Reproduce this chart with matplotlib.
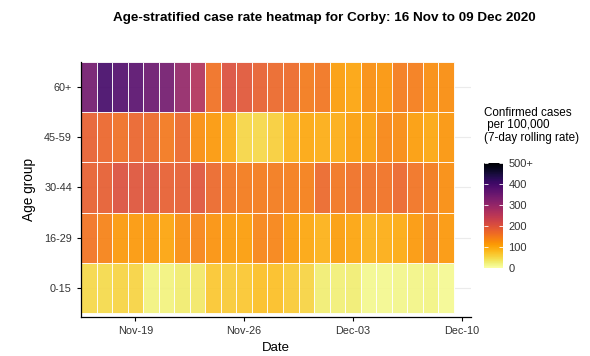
import matplotlib
matplotlib.use('Agg')
import matplotlib.pyplot as plt
import matplotlib.dates as mdates
import numpy as np
import datetime as dt

plt.rcParams['font.family'] = ['Liberation Sans', 'DejaVu Sans']

# 7-day rolling case rate per 100,000, 16 Nov to 09 Dec 2020
start = dt.date(2020, 11, 16)
dates = [start + dt.timedelta(days=i) for i in range(24)]
age_groups = ['0-15', '16-29', '30-44', '45-59', '60+']

rate_0_15 = [50, 48, 53, 53, 20, 20, 28, 32, 68, 63, 68, 75,
             76, 63, 53, 27, 24, 27, 12, 12, 14, 17, 18, 10]
rate_16_29 = [158, 140, 115, 115, 117, 103, 125, 138, 122, 113, 111, 138,
              138, 112, 100, 88, 110, 103, 88, 92, 97, 115, 138, 116]
rate_30_44 = [180, 185, 205, 198, 202, 183, 185, 198, 170, 155, 150, 148,
              150, 146, 143, 170, 155, 162, 162, 160, 172, 158, 148, 128]
rate_45_59 = [180, 172, 162, 175, 168, 152, 170, 125, 115, 92, 52, 50,
              60, 85, 98, 92, 92, 108, 108, 135, 130, 110, 100, 118]
rate_60_plus = [340, 395, 380, 372, 350, 340, 300, 262, 160, 205, 195, 180,
                170, 168, 150, 155, 110, 102, 125, 118, 148, 145, 128, 128]

rates = np.array([rate_0_15, rate_16_29, rate_30_44, rate_45_59, rate_60_plus])

fig = plt.figure(figsize=(5.9, 3.56), dpi=100)
ax = fig.add_axes([81 / 590, 1 - 317 / 356, 390 / 590, 255 / 356])

x_edges = mdates.date2num(dates) - 0.5
x_edges = np.append(x_edges, x_edges[-1] + 1)
y_edges = np.arange(len(age_groups) + 1) + 0.5

ax.yaxis.grid(True, color='#ebebeb', lw=0.8)
ax.set_axisbelow(True)
mesh = ax.pcolormesh(x_edges, y_edges, rates, cmap='inferno_r', vmin=0, vmax=500,
                     edgecolors=(1, 1, 1, 0.35), linewidth=0.6, alpha=0.92)

ax.set_xlim(x_edges[0], mdates.date2num(dt.date(2020, 12, 10)) + 0.6)
ax.set_ylim(0.42, 5.5)
ax.set_yticks(np.arange(1, len(age_groups) + 1))
ax.set_yticklabels(age_groups)
ax.xaxis_date()
ax.set_xticks(mdates.date2num([dt.date(2020, 11, 19), dt.date(2020, 11, 26),
                               dt.date(2020, 12, 3), dt.date(2020, 12, 10)]))
ax.xaxis.set_major_formatter(mdates.DateFormatter('%b-%d'))

for side in ['top', 'right']:
    ax.spines[side].set_visible(False)
for side in ['left', 'bottom']:
    ax.spines[side].set_linewidth(0.9)
ax.tick_params(labelsize=7.8, colors='black', length=3, width=0.8, labelcolor='#333333')
ax.set_xlabel('Date', fontsize=9.5, labelpad=4)
ax.set_ylabel('Age group', fontsize=9.8, labelpad=6)

fig.text(324 / 590, 1 - 18 / 356, 'Age-stratified case rate heatmap for Corby: 16 Nov to 09 Dec 2020',
         fontsize=9.7, fontweight='bold', ha='center', va='center')

cax = fig.add_axes([484 / 590, 1 - 268 / 356, 19 / 590, 105 / 356])
cb = fig.colorbar(mesh, cax=cax, ticks=[0, 100, 200, 300, 400, 500])
cb.solids.set_alpha(1)
cb.outline.set_visible(False)
cb.ax.set_yticklabels(['0', '100', '200', '300', '400', '500+'])
cb.ax.yaxis.set_ticks_position('both')
cb.ax.tick_params(labelsize=8, length=3, width=0.6, direction='in', color='white',
                  labelcolor='#333333', pad=4)
fig.text(484 / 590, 1 - 107 / 356, 'Confirmed cases\n per 100,000\n(7-day rolling rate)',
         fontsize=8.4, ha='left', va='top', linespacing=1.05)

fig.savefig('out.png', dpi=100)
